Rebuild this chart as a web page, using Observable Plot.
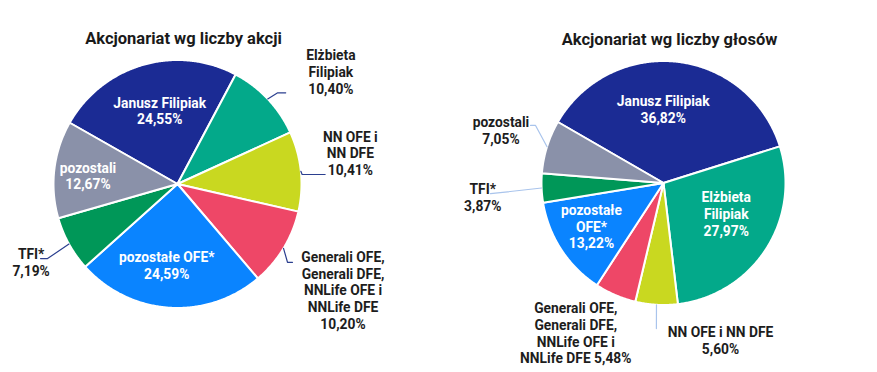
<!DOCTYPE html>
<html><head><meta charset="utf-8">
<script src="https://cdn.jsdelivr.net/npm/d3@7"></script>
<script src="https://cdn.jsdelivr.net/npm/@observablehq/plot@0.6"></script>
<style>
  html,body{margin:0;padding:0;background:#fff;}
  #chart svg{display:block;}
</style>
</head><body><div id="chart"></div>
<script>
// ---- data ----
const categories = ["Janusz Filipiak", "Elżbieta Filipiak", "NN OFE i NN DFE",
  "Generali OFE, Generali DFE, NNLife OFE i NNLife DFE", "pozostałe OFE*", "TFI*", "pozostali"];
const sharesByStock = [24.55, 10.40, 10.41, 10.20, 24.59, 7.19, 12.67];
const sharesByVotes = [36.82, 27.97, 5.60, 5.48, 13.22, 3.87, 7.05];
const titles = ["Akcjonariat wg liczby akcji", "Akcjonariat wg liczby głosów"];
const namesStock = ["Janusz Filipiak", "Elżbieta\nFilipiak", "NN OFE i\nNN DFE",
  "Generali OFE,\nGenerali DFE,\nNNLife OFE i\nNNLife DFE", "pozostałe OFE*", "TFI*", "pozostali"];
const namesVotes = ["Janusz Filipiak", "Elżbieta\nFilipiak", "NN OFE i NN DFE",
  "Generali OFE,\nGenerali DFE,\nNNLife OFE i\nNNLife DFE", "pozostałe\nOFE*", "TFI*", "pozostali"];
const valueSep = [["\n","\n","\n","\n","\n","\n","\n"], ["\n","\n","\n"," ","\n","\n","\n"]];

// ---- styles / layout ----
const colors = ["#1b2b94", "#03a98a", "#c9d820", "#ee4767", "#0a84ff", "#009758", "#8a91a9"];
const W = 877, H = 372;
const pies = [
  {cx: 177, cy: 183.5, r: 124, start: -60.4, leader: "#2b3f8f"},
  {cx: 663, cy: 182.5, r: 122, start: -60.0, leader: "#a9c4ec"}
];
// label placement relative to slice mid-angle: [dAngle(deg), radius(px), inside?]
const labelPlace = [
  [[2.6, 75.6, 1], [7.1, 190.1, 0], [-4.3, 175.6, 0], [1.4, 196.5, 0], [3.7, 82.2, 1], [0.9, 165.9, 0], [-1.5, 89.9, 1]],
  [[-6.5, 73.8, 1], [-6.7, 69.9, 1], [-23.2, 167.5, 0], [7.1, 173.7, 0], [2.0, 84.1, 1], [-2.2, 181.3, 0], [0.6, 170.8, 0]]
];
// leader lines: [elbow dAngle, elbow radius, horizontal extension] or null
const leaderPlace = [
  [null, [1.0, 135.5, 8], [1.5, 125, 23], [4.2, 135, 5], null, [-0.9, 149.8, -7], null],
  [null, null, [-0.5, 145.7, 0], null, null, [-1.2, 173.3, 0], [6.9, 140.3, -5]]
];

const rad = Math.PI / 180;
const polar = (p, aDeg, r) => ({x: p.cx + r * Math.sin(aDeg * rad), y: p.cy - r * Math.cos(aDeg * rad)});

const series = [sharesByStock, sharesByVotes];
const names = [namesStock, namesVotes];
const fmt = v => v.toFixed(2).replace(".", ",") + "%";

const slicePts = [], labels = [], leaders = [], titleRows = [];
series.forEach((vals, pi) => {
  const p = pies[pi];
  const arcs = d3.pie().sort(null).value(d => d)
    .startAngle(p.start * rad).endAngle(p.start * rad + 2 * Math.PI)(vals);
  arcs.forEach((a, i) => {
    const key = pi + "-" + i;
    const a0 = a.startAngle / rad, a1 = a.endAngle / rad;
    slicePts.push({key, cat: categories[i], ...polar(p, 0, 0)});
    const n = Math.max(2, Math.ceil((a1 - a0) / 0.5));
    for (let k = 0; k <= n; k++) slicePts.push({key, cat: categories[i], ...polar(p, a0 + (a1 - a0) * k / n, p.r)});
    slicePts.push({key, cat: categories[i], ...polar(p, 0, 0)});
    const mid = (a0 + a1) / 2;
    const [dA, lr, inside] = labelPlace[pi][i];
    labels.push({inside, text: names[pi][i] + valueSep[pi][i] + fmt(vals[i]), ...polar(p, mid + dA, lr)});
    const lp = leaderPlace[pi][i];
    if (lp) {
      const s = polar(p, mid, p.r);
      const e = polar(p, mid + lp[0], lp[1]);
      leaders.push({key, pie: pi, ...s});
      leaders.push({key, pie: pi, ...e});
      if (lp[2]) leaders.push({key, pie: pi, x: e.x + lp[2], y: e.y});
    }
  });
  titleRows.push({text: titles[pi], ...polar(p, 0, p.r + 21)});
});

const chart = Plot.plot({
  width: W, height: H,
  margin: 0,
  x: {domain: [0, W], range: [0, W], axis: null},
  y: {domain: [0, H], range: [0, H], axis: null},
  color: {domain: categories, range: colors},
  style: {fontFamily: "Roboto, 'Noto Sans', sans-serif", background: "#fff"},
  marks: [
    Plot.line(slicePts, {x: "x", y: "y", z: "key", fill: "cat", stroke: "white", strokeWidth: 2, strokeLinejoin: "round", curve: "linear"}),
    Plot.line(leaders.filter(d => d.pie === 0), {x: "x", y: "y", z: "key", stroke: pies[0].leader, strokeWidth: 1.2}),
    Plot.line(leaders.filter(d => d.pie === 1), {x: "x", y: "y", z: "key", stroke: pies[1].leader, strokeWidth: 1.2}),
    Plot.text(labels.filter(d => d.inside), {x: "x", y: "y", text: "text", fill: "white", fontSize: 13.8, fontWeight: 700, lineHeight: 1.21, lineAnchor: "middle", textAnchor: "middle"}),
    Plot.text(labels.filter(d => !d.inside), {x: "x", y: "y", text: "text", fill: "#1d1d1d", fontSize: 13.8, fontWeight: 700, lineHeight: 1.21, lineAnchor: "middle", textAnchor: "middle"}),
    Plot.text(titleRows, {x: "x", y: "y", dx: 6, text: "text", fill: "#1a1a1a", fontSize: 16.5, fontWeight: 700, lineAnchor: "middle", textAnchor: "middle"})
  ]
});
document.getElementById("chart").appendChild(chart);
</script>
</body></html>
